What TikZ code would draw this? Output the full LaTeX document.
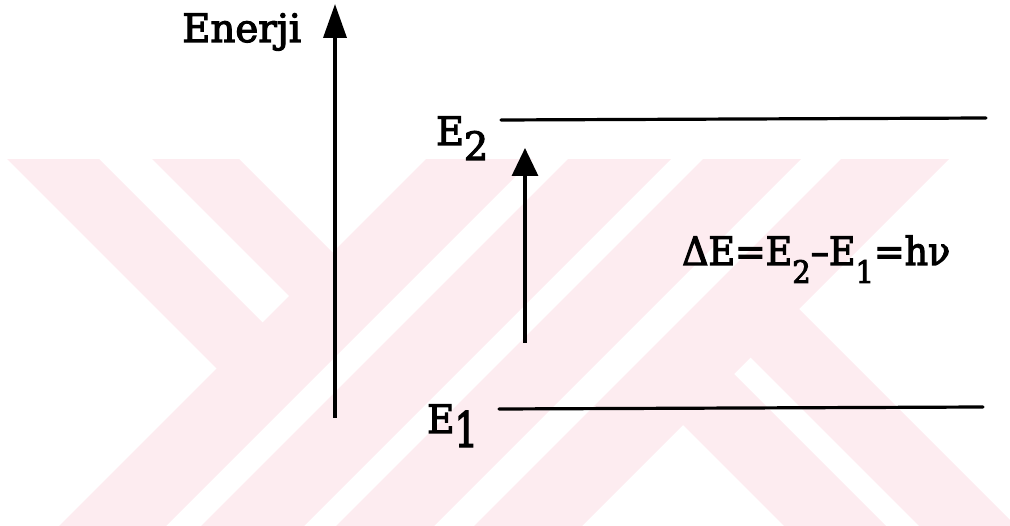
\documentclass[tikz,border=0pt]{standalone}
\usepackage{graphicx}
\usepackage{fontspec}
\setmainfont{DejaVu Serif}
\newfontfamily\lblfont{DejaVu Serif}[FakeBold=3]
\usetikzlibrary{arrows.meta}
\definecolor{wm}{RGB}{253,236,240}
\begin{document}
\begin{tikzpicture}[x=1pt,y=-1pt,
  wmark/.style={fill=wm, draw=none},
  level/.style={line width=3.2pt, line cap=round},
  bigarrow/.style={line width=3.6pt, -{Triangle[length=34pt,width=23pt]}},
  smallarrow/.style={line width=3.2pt, -{Triangle[length=28pt,width=26pt]}},
  lbl/.style={inner sep=0pt, anchor=base west, font=\fontsize{39}{41}\lblfont}]
\useasboundingbox (0,0) rectangle (1010,526);
% watermark
\begin{scope}
\clip (0,160) rectangle (1010,526);
\fill[wmark] (435,150) -- (542,150) -- (152,540) -- (45,540) -- cycle;
\fill[wmark] (577,150) -- (680,150) -- (290,540) -- (187,540) -- cycle;
\fill[wmark] (712,150) -- (810,150) -- (420,540) -- (322,540) -- cycle;
\fill[wmark] (850,150) -- (958,150) -- (568,540) -- (460,540) -- cycle;
\fill[wmark] (-2,150) -- (90,150) -- (290,350) -- (244,396) -- cycle;
\fill[wmark] (143,150) -- (230,150) -- (360,280) -- (316.5,323.5) -- cycle;
\fill[wmark] (772,282) -- (1100,610) -- (1100,707) -- (723.5,330.5) -- cycle;
\fill[wmark] (707,347) -- (920,560) -- (818,560) -- (656,398) -- cycle;
\end{scope}
% axis and levels
\coordinate (bigbot) at (335,418);
\coordinate (bigtop) at (335,4);
\draw[bigarrow] (bigbot) -- (bigtop);
\coordinate (e2l) at (501,120);
\coordinate (e2r) at (986,118);
\draw[level] (e2l) -- (e2r);
\coordinate (e1l) at (499,409);
\coordinate (e1r) at (983,407);
\draw[level] (e1l) -- (e1r);
\coordinate (smbot) at (525,343);
\coordinate (smtop) at (525,148);
\draw[smallarrow] (smbot) -- (smtop);
% labels
\node[lbl] (enerji) at (182,42) {\resizebox{119pt}{\height}{Enerji}};
\node[lbl] (e2lab) at (436,145) {\resizebox{52pt}{\height}{E\lower15pt\hbox{2}}};
\node[lbl] (e1lab) at (427,433) {\resizebox{51pt}{\height}{E\lower14pt\hbox{\scalebox{1}[1.25]{1}}}};
\node[lbl] (form) at (682,265) {\resizebox{268pt}{\height}{ΔE=E\lower18pt\hbox{\fontsize{31}{33}\selectfont 2}–E\lower18pt\hbox{\fontsize{31}{33}\selectfont 1}=hν}};
\end{tikzpicture}
\end{document}
